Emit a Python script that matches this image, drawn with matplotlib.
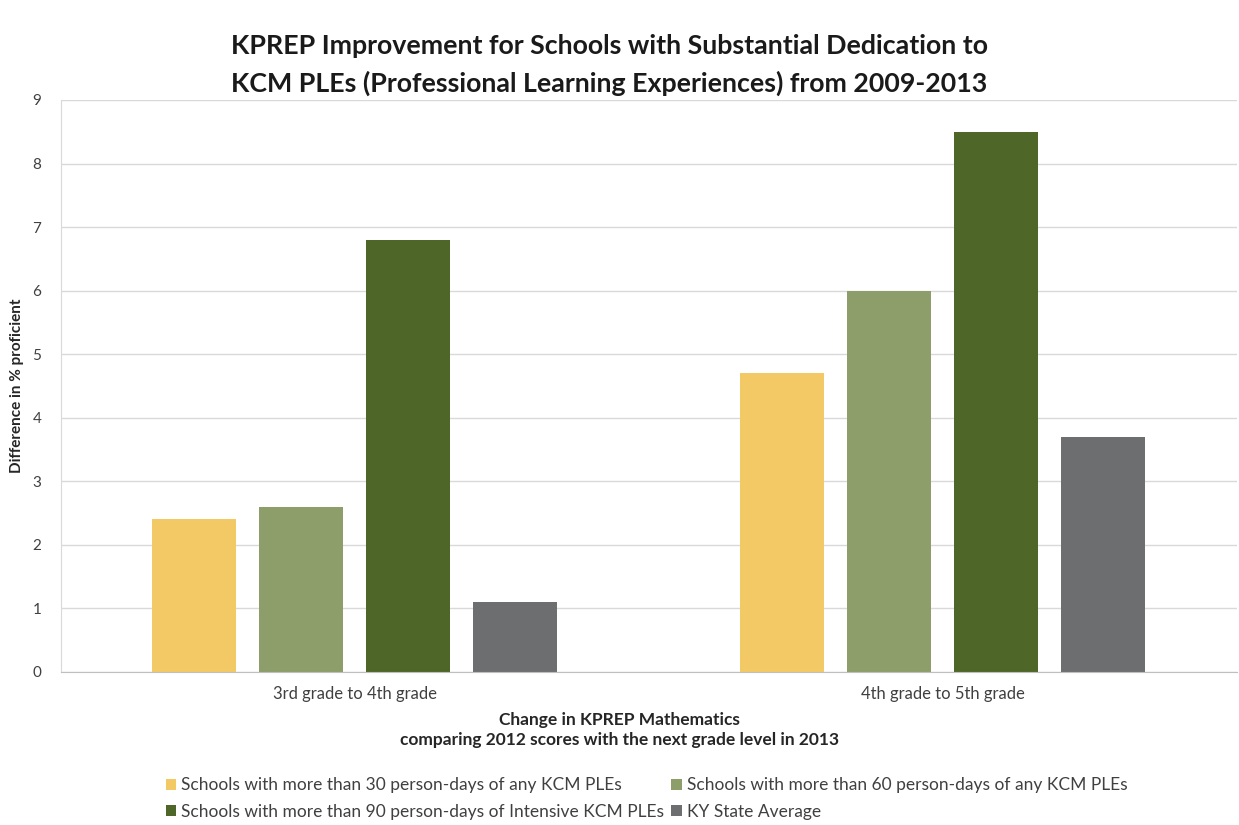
import numpy as np
import matplotlib.pyplot as plt

plt.rcParams['font.family'] = ['Lato', 'DejaVu Sans']

# Dane
categories = ["3rd grade to 4th grade", "4th grade to 5th grade"]
series_names = [
    "Schools with more than 30 person-days of any KCM PLEs",
    "Schools with more than 60 person-days of any KCM PLEs",
    "Schools with more than 90 person-days of Intensive KCM PLEs",
    "KY State Average",
]
values_30 = [2.4, 4.7]
values_60 = [2.6, 6.0]
values_90 = [6.8, 8.5]
values_state = [1.1, 3.7]
colors = ["#F2C964", "#8E9E6B", "#4F6629", "#6D6E70"]

series = [values_30, values_60, values_90, values_state]

fig = plt.figure(figsize=(12.39, 8.25), dpi=100)
ax = fig.add_axes([0.049, 0.1855, 0.949, 0.6933])

x = np.arange(len(categories))
step = 0.182
width = 0.143
offsets = (np.arange(len(series)) - 1.5) * step
bars = []
for vals, off, col, name in zip(series, offsets, colors, series_names):
    b = ax.bar(x + off, vals, width=width, color=col, label=name, zorder=3)
    bars.append(b)

ax.set_xlim(-0.5, 1.5)
ax.set_ylim(0, 9)
ax.set_yticks(range(0, 10))
ax.set_xticks(x)
ax.set_xticklabels(categories, fontsize=12, color="#404040")
ax.tick_params(axis='y', labelsize=11, labelcolor="#404040", length=0, pad=14)
ax.tick_params(axis='x', length=0, pad=10)
ax.yaxis.grid(True, color="#D9D9D9", linewidth=1, zorder=0)
for s in ["top", "right"]:
    ax.spines[s].set_visible(False)
ax.spines["left"].set_color("#D9D9D9")
ax.spines["bottom"].set_color("#BFBFBF")
ax.spines["bottom"].set_zorder(4)

ax.set_ylabel("Difference in % proficient", fontsize=11, fontweight="bold",
              color="#262626", labelpad=6)

fig.text(0.5, 0.115, "Change in KPREP Mathematics\ncomparing 2012 scores with the next grade level in 2013",
         ha="center", va="center", fontsize=12.5, fontweight="bold",
         color="#262626", linespacing=1.25)

fig.text(0.492, 0.921, "KPREP Improvement for Schools with Substantial Dedication to\n"
         "KCM PLEs (Professional Learning Experiences) from 2009-2013",
         ha="center", va="center", fontsize=19.3, fontweight="bold",
         color="#1a1a1a", linespacing=1.6)

# kolejność wierszami jak w oryginale
order = [0, 2, 1, 3]
fig.legend(handles=[bars[i] for i in order],
           labels=[series_names[i] for i in order], loc="center",
           bbox_to_anchor=(0.522, 0.032), ncol=2, frameon=False,
           fontsize=12.5, handlelength=0.6, handleheight=0.6,
           handletextpad=0.3, columnspacing=0.4, labelspacing=0.6,
           labelcolor="#404040")

fig.savefig("out.png", dpi=100)
